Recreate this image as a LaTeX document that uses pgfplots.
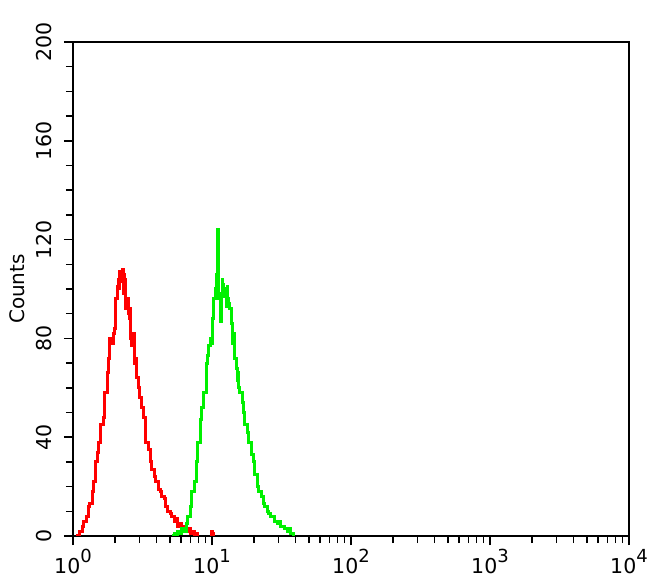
\documentclass[border=0pt]{standalone}
\usepackage{fontspec}
\setmainfont{DejaVu Sans}
\usepackage{pgfplots}
\pgfplotsset{compat=1.18}

% x data are log10 of the fluorescence channel (axis shows 10^0 .. 10^4)
\newcommand{\dec}[1]{10\raisebox{11bp}{\fontsize{18bp}{18bp}\selectfont #1}}

\begin{document}
\begin{tikzpicture}
\useasboundingbox (-73bp,-49bp) rectangle (577bp,536bp);
\begin{axis}[
    scale only axis,
    width=556bp, height=494bp,
    xmin=0, xmax=4,
    ymin=0, ymax=200,
    xtick={0,1,2,3,4},
    xticklabels={\dec{0},\dec{1},\dec{2},\dec{3},\dec{4}},
    minor xtick={0.301,0.477,0.602,0.699,0.778,0.845,0.903,0.954,
                 1.301,1.477,1.602,1.699,1.778,1.845,1.903,1.954,
                 2.301,2.477,2.602,2.699,2.778,2.845,2.903,2.954,
                 3.301,3.477,3.602,3.699,3.778,3.845,3.903,3.954},
    ytick={0,40,80,120,160,200},
    minor y tick num=3,
    tick pos=lower,
    tick align=outside,
    major tick length=9bp,
    minor tick length=7bp,
    every tick/.style={black, line width=1.5bp},
    axis line style={line width=1.9bp},
    /pgf/number format/assume math mode=true,
    tick label style={font=\fontsize{20.5bp}{24bp}\selectfont},
    yticklabel style={rotate=90, anchor=south},
    yticklabel shift=9bp,
    xticklabel shift=1bp,
    ylabel={Counts},
    ylabel style={font=\fontsize{20bp}{24bp}\selectfont},
    ylabel shift=4bp,
    unbounded coords=jump,
]

% isotype control (red)
\addplot[const plot, color=red, line width=3bp] table {
0.022 0
0.036 0
0.050 2
0.065 4
0.079 6
0.094 8
0.108 12
0.122 13
0.137 18
0.151 22
0.165 30
0.173 34
0.187 38
0.201 45
0.216 48
0.230 58
0.245 66
0.252 72
0.259 80
0.273 78
0.288 82
0.302 84
0.309 96
0.317 101
0.324 104
0.331 100
0.338 107
0.345 103
0.353 108
0.360 98
0.367 106
0.374 104
0.381 92
0.388 96
0.396 90
0.403 88
0.410 92
0.417 80
0.424 77
0.432 82
0.439 72
0.446 70
0.453 72
0.460 64
0.468 60
0.475 58
0.482 56
0.496 52
0.504 48
0.518 46
0.525 38
0.540 35
0.554 30
0.568 27
0.583 24
0.597 22
0.612 19
0.626 18
0.640 16
0.655 15
0.669 12
0.683 10
0.698 9
0.712 8
0.727 6
0.741 7
0.755 4
0.770 5
0.784 3
0.799 4
0.813 2
0.827 3
0.842 1
0.856 2
0.871 0
0.885 1
0.899 0
0.950 nan
0.986 0
0.993 2
1.007 1
1.014 0
};

% sample (green)
\addplot[const plot, color={rgb,255:red,0;green,240;blue,0}, line width=3bp] table {
0.712 0
0.727 1
0.741 0
0.755 2
0.770 1
0.784 3
0.799 2
0.813 5
0.827 8
0.842 12
0.856 18
0.871 22
0.885 30
0.899 38
0.914 47
0.928 52
0.942 58
0.957 64
0.964 70
0.971 73
0.978 77
0.986 80
0.993 78
1.000 86
1.007 88
1.014 96
1.022 100
1.029 106
1.036 98
1.043 124
1.050 96
1.058 87
1.065 98
1.072 104
1.079 102
1.086 97
1.094 100
1.101 93
1.108 101
1.115 96
1.122 94
1.129 92
1.137 86
1.144 84
1.151 78
1.158 82
1.165 72
1.173 68
1.180 63
1.187 66
1.194 60
1.201 58
1.216 54
1.230 50
1.237 45
1.252 42
1.266 38
1.281 33
1.295 30
1.309 25
1.324 20
1.338 18
1.353 16
1.367 13
1.381 12
1.396 10
1.410 9
1.424 8
1.439 8
1.453 6
1.468 5
1.482 6
1.496 4
1.511 4
1.525 3
1.540 2
1.554 3
1.568 1
1.583 0
1.597 0
};

\end{axis}
\end{tikzpicture}
\end{document}
